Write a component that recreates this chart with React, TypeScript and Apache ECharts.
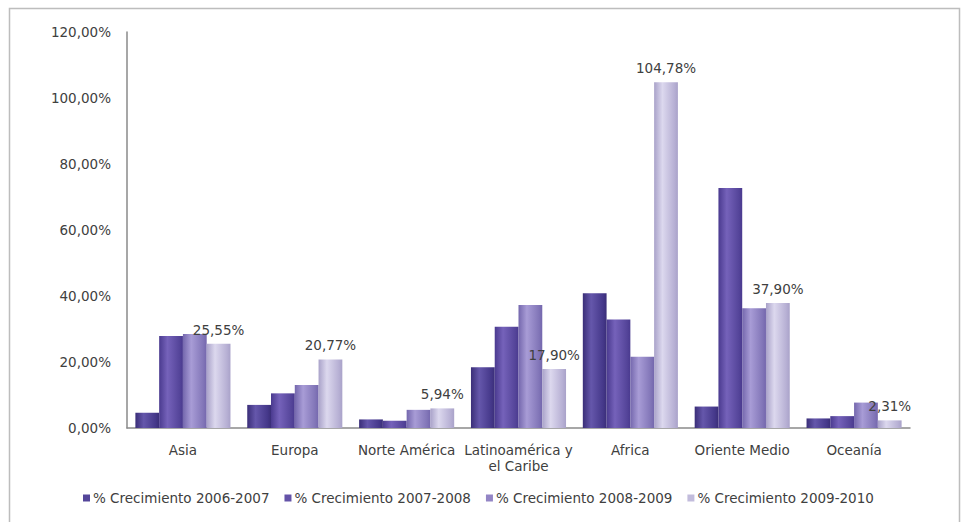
import React, { useEffect, useRef } from "react";
import * as echarts from "echarts";

const categories = [
  "Asia",
  "Europa",
  "Norte América",
  "Latinoamérica y\nel Caribe",
  "Africa",
  "Oriente Medio",
  "Oceanía",
];
const seriesNames = [
  "% Crecimiento 2006-2007",
  "% Crecimiento 2007-2008",
  "% Crecimiento 2008-2009",
  "% Crecimiento 2009-2010",
];
const s2006 = [4.6, 7.0, 2.6, 18.4, 40.8, 6.5, 2.9];
const s2007 = [27.9, 10.5, 2.2, 30.7, 32.9, 72.7, 3.6];
const s2008 = [28.5, 13.0, 5.5, 37.3, 21.6, 36.3, 7.7];
const s2009 = [25.55, 20.77, 5.94, 17.9, 104.78, 37.9, 2.31];
const yTicks = [0, 20, 40, 60, 80, 100, 120];

const baseColors = [
  ["#3a2e78", "#6557ab", "#45388a"],
  ["#4a3a8f", "#7562ba", "#55459a"],
  ["#7467ad", "#a89cd6", "#8276b8"],
  ["#a9a2c9", "#dcd8ee", "#b7b0d4"],
];
const legendColors = ["#54469a", "#6453a8", "#9385c5", "#c2bcdc"];

const fmt = (v: number) => v.toFixed(2).replace(".", ",") + "%";
const FONT = "DejaVu Sans, Verdana, sans-serif";
const FS = 13.5;

export default function App() {
  const ref = useRef<HTMLDivElement>(null);
  useEffect(() => {
    if (!ref.current) return;
    const chart = echarts.init(ref.current, null, { renderer: "svg" });
    const data = [s2006, s2007, s2008, s2009];
    chart.setOption({
      animation: false,
      backgroundColor: "#ffffff",
      textStyle: { fontFamily: FONT },
      graphic: [
        {
          type: "rect",
          shape: { x: 9.5, y: 8.5, width: 950, height: 520 },
          style: { fill: "none", stroke: "#bdbdbd", lineWidth: 1.5 },
          silent: true,
          z: -1,
        },
      ],
      legend: {
        bottom: 12,
        left: 78,
        itemWidth: 7,
        itemHeight: 7,
        itemGap: 15,
        icon: "rect",
        textStyle: { fontSize: FS, color: "#404040", fontFamily: FONT, padding: [0, 0, 0, -2] },
        data: seriesNames.map((n, i) => ({ name: n, itemStyle: { color: legendColors[i] } })),
      },
      grid: { left: 127, right: 53, top: 32, bottom: 94, containLabel: false },
      xAxis: {
        type: "category",
        data: categories,
        axisLine: { lineStyle: { color: "#8a8a8a", width: 1.5 } },
        axisTick: { show: false },
        axisLabel: {
          fontSize: FS,
          color: "#404040",
          fontFamily: FONT,
          interval: 0,
          margin: 14,
          lineHeight: 16,
        },
      },
      yAxis: {
        type: "value",
        min: 0,
        max: 120,
        interval: 20,
        axisLine: { show: true, lineStyle: { color: "#8a8a8a", width: 1.5 } },
        axisTick: { show: false },
        splitLine: { show: false },
        axisLabel: {
          fontSize: FS,
          color: "#404040",
          fontFamily: FONT,
          margin: 16,
          formatter: (v: number) => (yTicks.includes(v) ? fmt(v) : ""),
        },
      },
      series: data.map((d, i) => ({
        name: seriesNames[i],
        type: "bar",
        data: d,
        barGap: "0%",
        barCategoryGap: "15%",
        itemStyle: {
          color: new echarts.graphic.LinearGradient(0, 0, 1, 0, [
            { offset: 0, color: baseColors[i][0] },
            { offset: 0.35, color: baseColors[i][1] },
            { offset: 0.85, color: baseColors[i][2] },
            { offset: 1, color: baseColors[i][0] },
          ]),
        },
        label:
          i === 3
            ? {
                show: true,
                position: "top",
                distance: 7,
                fontSize: FS,
                color: "#404040",
                fontFamily: FONT,
                formatter: (p: any) => fmt(p.value),
              }
            : { show: false },
      })),
    });
    return () => chart.dispose();
  }, []);
  return <div ref={ref} style={{ width: 963, height: 522, position: "absolute", left: 0, top: 0 }} />;
}
